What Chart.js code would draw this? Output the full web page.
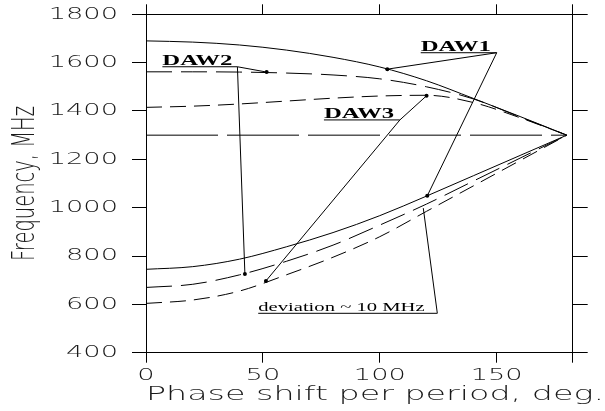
<!DOCTYPE html>
<html>
<head>
<meta charset="utf-8">
<script src="https://cdn.jsdelivr.net/npm/chart.js@4.4.1/dist/chart.umd.min.js"></script>
<style>
  html, body { margin: 0; padding: 0; background: #fff; }
  #wrap { width: 605px; height: 411px; }
</style>
</head>
<body>
<div id="wrap"><canvas id="chart"></canvas></div>
<script>
// ---- values ----
const phase = [0, 20, 40, 60, 80, 100, 120, 140, 160, 180];

const daw1Upper = [1690, 1685, 1673, 1652, 1622, 1582, 1525, 1452, 1377, 1300];
const daw1Lower = [745, 756, 787, 838, 897, 967, 1048, 1132, 1216, 1300];
const daw2Upper = [1562, 1562, 1561, 1557, 1549, 1533, 1500, 1450, 1375, 1300];
const daw2Lower = [670, 683, 722, 778, 845, 928, 1015, 1110, 1205, 1300];
const daw3Upper = [1415, 1420, 1429, 1441, 1453, 1462, 1465, 1435, 1372, 1300];
const daw3Lower = [604, 618, 655, 722, 795, 880, 985, 1090, 1195, 1300];

const refLine = [[0, 1300], [180, 1300]];

const xTicks = [0, 50, 100, 150];
const xMax = 182.5;
const yMin = 400;
const yMax = 1800;
const yStep = 200;

// label pointers (data coords): underline start -> underline end -> target
const pointerPaths = [
  [[117.5, 1641], [150, 1641], [103.2, 1573]],
  [[150, 1641], [120.3, 1049]],
  [[7, 1583], [39.1, 1583], [51.6, 1561]],
  [[39.1, 1583], [42.3, 726]],
  [[76.1, 1363], [108.6, 1363], [120, 1463]],
  [[108.6, 1363], [51.3, 697]],
  [[48, 563], [124.6, 563], [118.6, 998]]
];
const pointerDots = [[103.2, 1573], [120.3, 1049], [51.6, 1561], [42.3, 726], [120, 1463], [51.3, 697]];

const labelTexts = ["DAW1", "DAW2", "DAW3", "deviation ~ 10 MHz"];
const labelX = [117.5, 7, 76.1, 48];
const labelY = [1649, 1590, 1370, 574];

// ---- the original is stretched sideways, so stretch all text the same way ----
const STRETCH = 1.65;
const canvas = document.getElementById("chart");
const ctx2d = canvas.getContext("2d");
const rawFillText = ctx2d.fillText;
ctx2d.fillText = function (text, px, py, maxWidth) {
  const m = this.getTransform();
  const p = m.transformPoint(new DOMPoint(px, py));
  this.save();
  this.setTransform(new DOMMatrix().translate(p.x, p.y).scale(STRETCH, 1).translate(-p.x, -p.y).multiply(m));
  rawFillText.call(this, text, px, py, maxWidth);
  this.restore();
};

const ink = "#000";
const textInk = "#1a1a1a";
const tickFont = { family: "'DejaVu Sans', sans-serif", size: 16.5, weight: 200 };

function curve(ys, dash) {
  return {
    data: phase.map((x, i) => ({ x, y: ys[i] })),
    borderColor: ink,
    borderWidth: 1,
    borderDash: dash,
    pointRadius: 0,
    cubicInterpolationMode: "monotone",
    fill: false
  };
}

function pointer(path) {
  return {
    data: path.map(p => ({ x: p[0], y: p[1] })),
    borderColor: ink,
    borderWidth: 1,
    pointRadius: 0,
    tension: 0,
    fill: false
  };
}

const labelPlugin = {
  id: "labelPlugin",
  afterDatasetsDraw(chart) {
    const { ctx, scales: { x, y } } = chart;
    ctx.save();
    ctx.fillStyle = ink;
    ctx.textAlign = "left";
    ctx.textBaseline = "alphabetic";
    labelTexts.forEach((t, i) => {
      ctx.font = i < 3 ? "bold 15px 'Liberation Serif'" : "12.5px 'Liberation Serif'";
      ctx.fillText(t, x.getPixelForValue(labelX[i]), y.getPixelForValue(labelY[i]));
    });
    ctx.restore();
  }
};

const frameGrid = len => ({ drawOnChartArea: false, drawTicks: true, tickLength: len, color: ink, lineWidth: 1 });
const frameBorder = { display: true, color: ink, width: 1 };
const xTickBuild = s => { s.ticks = [...xTicks, xMax].map(v => ({ value: v })); };
// fixed box sizes, and no extra room for overhanging labels
const fixBox = (w, h) => s => {
  if (w !== null) s.width = w;
  if (h !== null) s.height = h;
  s.paddingTop = s.paddingBottom = s.paddingLeft = s.paddingRight = 0;
};

new Chart(canvas, {
  type: "line",
  data: {
    datasets: [
      curve(daw1Upper, []),
      curve(daw1Lower, []),
      curve(daw2Upper, [26, 9]),
      curve(daw2Lower, [26, 9]),
      curve(daw3Upper, [16, 8]),
      curve(daw3Lower, [16, 8]),
      { ...pointer(refLine), borderDash: [72, 9] },
      ...pointerPaths.map(pointer),
      {
        type: "scatter",
        data: pointerDots.map(p => ({ x: p[0], y: p[1] })),
        pointRadius: 2,
        pointBackgroundColor: ink,
        pointBorderWidth: 0
      }
    ]
  },
  options: {
    responsive: true,
    maintainAspectRatio: false,
    animation: false,
    layout: { padding: 0 },
    plugins: { legend: { display: false }, tooltip: { enabled: false } },
    scales: {
      x: {
        type: "linear", position: "bottom", min: 0, max: xMax,
        afterBuildTicks: xTickBuild,
        afterFit: fixBox(null, 58.3),
        ticks: {
          autoSkip: false, maxRotation: 0, padding: 3, color: textInk, font: tickFont,
          callback: v => xTicks.includes(v) ? String(v) : ""
        },
        grid: frameGrid(10),
        border: frameBorder,
        title: {
          display: true, text: "Phase shift per period, deg.", align: "start", color: textInk,
          font: { family: "'DejaVu Sans', sans-serif", size: 20.2, weight: 200 },
          padding: { top: 0, bottom: 4 }
        }
      },
      x2: {
        type: "linear", position: "top", min: 0, max: xMax,
        afterBuildTicks: xTickBuild,
        afterFit: fixBox(null, 14.3),
        ticks: { display: false },
        grid: frameGrid(10),
        border: frameBorder
      },
      y: {
        type: "linear", position: "left", min: yMin, max: yMax,
        afterFit: fixBox(146, null),
        ticks: { stepSize: yStep, padding: 14, color: textInk, font: tickFont, callback: v => String(v) },
        grid: frameGrid(14),
        border: frameBorder,
        title: {
          display: true, text: "Frequency, MHz", color: textInk,
          font: { family: "'DejaVu Sans', sans-serif", size: 19.5, weight: 200 },
          padding: { top: 14, bottom: 0 }
        }
      },
      y2: {
        type: "linear", position: "right", min: yMin, max: yMax,
        afterFit: fixBox(32.3, null),
        ticks: { display: false, stepSize: yStep },
        grid: frameGrid(15),
        border: frameBorder
      }
    }
  },
  plugins: [labelPlugin]
});
</script>
</body>
</html>
